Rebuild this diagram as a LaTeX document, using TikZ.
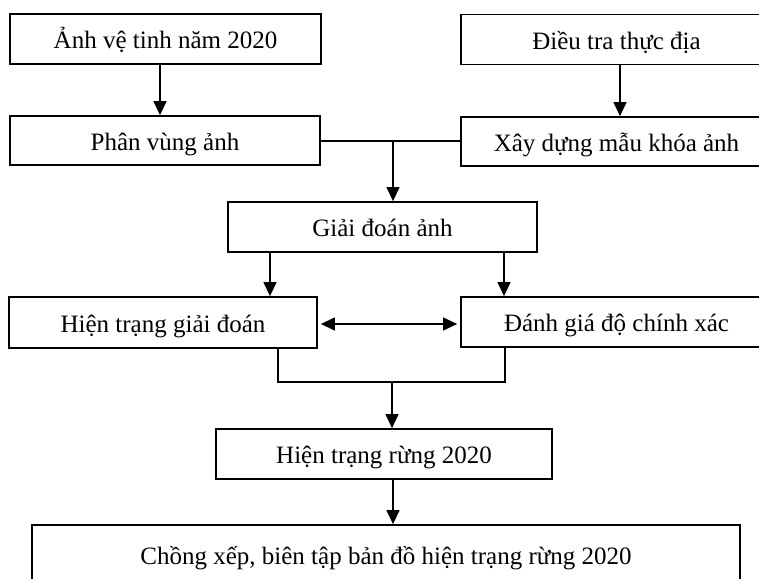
\documentclass[tikz,border=0pt]{standalone}
\usepackage{fontspec}
\setmainfont{Liberation Serif}
\usetikzlibrary{arrows.meta}
\tikzset{
  box/.style={draw=black, line width=1.8pt, fill=white, inner sep=0pt,
    minimum height=50pt, text height=24pt, text depth=5pt,
    font=\fontsize{25}{30}\selectfont},
  link/.style={line width=1.3pt, draw=black},
  arr/.style={link, -{Triangle[width=13pt,length=14pt]}},
  dbl/.style={link, {Triangle[width=13pt,length=14pt]}-{Triangle[width=13pt,length=14pt]}}
}
\begin{document}
\begin{tikzpicture}[x=1pt,y=-1pt]
\useasboundingbox (0,0) rectangle (759,578);
\clip (0,0) rectangle (759,578);
\fill[white] (0,0) rectangle (759,578);
\node[box, minimum width=311pt] (b1) at (165.5,39) {Ảnh vệ tinh năm 2020};
\node[box, minimum width=311pt] (b2) at (616.5,39.5) {Điều tra thực địa};
\node[box, minimum width=310pt, minimum height=49pt] (b3) at (165,140.5) {Phân vùng ảnh};
\node[box, minimum width=311pt, minimum height=49pt] (b4) at (616.5,141.5) {Xây dựng mẫu khóa ảnh};
\node[box, minimum width=309pt] (b5) at (382.5,227) {Giải đoán ảnh};
\node[box, minimum width=308pt, minimum height=51pt] (b6) at (163,322.5) {Hiện trạng giải đoán};
\node[box, minimum width=311pt] (b7) at (616.5,322) {Đánh giá độ chính xác};
\node[box, minimum width=336pt] (b8) at (384,454) {Hiện trạng rừng 2020};
\node[box, minimum width=708pt, minimum height=56pt, text height=26pt, text depth=3pt] (b9) at (386,553) {Chồng xếp, biên tập bản đồ hiện trạng rừng 2020};

\coordinate (x1) at (160,0);
\coordinate (x2) at (620,0);
\coordinate (j1) at (393,141);
\coordinate (x5) at (270,0);
\coordinate (x6) at (504,0);
\coordinate (y1) at (0,324);
\coordinate (xl) at (278,0);
\coordinate (xr) at (505,0);
\coordinate (j2) at (392,382);
\coordinate (x8) at (393,0);

\draw[arr] (b1.south -| x1) -- (b3.north -| x1);
\draw[arr] (b2.south -| x2) -- (b4.north -| x2);
\draw[link] (b3.east |- j1) -- (b4.west |- j1);
\draw[arr] (j1) -- (b5.north -| j1);
\draw[arr] (b5.south -| x5) -- (b6.north -| x5);
\draw[arr] (b5.south -| x6) -- (b7.north -| x6);
\draw[dbl, shorten <=3pt, shorten >=3pt] (b6.east |- y1) -- (b7.west |- y1);
\draw[link] (b6.south -| xl) -- (xl |- j2) -- (xr |- j2) -- (b7.south -| xr);
\draw[arr] (j2) -- (b8.north -| j2);
\draw[arr] (b8.south -| x8) -- (b9.north -| x8);
\end{tikzpicture}
\end{document}
